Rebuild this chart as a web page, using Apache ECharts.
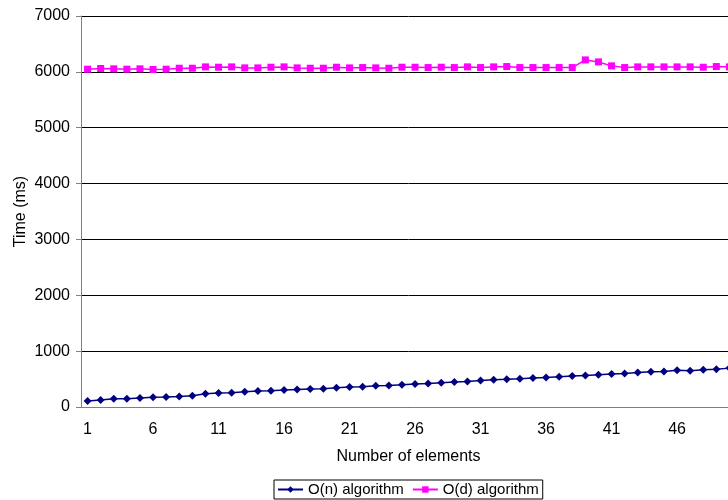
<!DOCTYPE html>
<html>
<head>
<meta charset="utf-8">
<script src="https://cdn.jsdelivr.net/npm/echarts@6/dist/echarts.min.js"></script>
<style>
  html, body { margin: 0; padding: 0; background: #fff; overflow: hidden; }
  /* the plot runs a few pixels past the right edge, as in the original */
  #main-chart { width: 736px; height: 500px; }
</style>
</head>
<body>
<div id="main-chart"></div>
<script>
// number of elements 1..50
const elements = [];
for (let i = 1; i <= 50; i++) elements.push(String(i));

// time in ms
const onValues = [
  107, 125, 149, 149, 161, 173, 179, 190, 202, 238,
  250, 256, 274, 286, 292, 303, 315, 321, 327, 345,
  357, 363, 381, 387, 399, 411, 422, 434, 446, 458,
  476, 488, 496, 506, 518, 530, 541, 553, 565, 577,
  589, 601, 619, 631, 637, 660, 649, 666, 678, 696
];
const odValues = [
  6048, 6060, 6054, 6048, 6054, 6042, 6048, 6065, 6065, 6089,
  6083, 6089, 6071, 6071, 6083, 6089, 6071, 6065, 6065, 6083,
  6071, 6077, 6071, 6065, 6083, 6083, 6077, 6083, 6077, 6089,
  6077, 6089, 6095, 6077, 6077, 6077, 6077, 6077, 6214, 6178,
  6107, 6077, 6089, 6089, 6089, 6089, 6089, 6083, 6095, 6089
];

const yTicks = [0, 1000, 2000, 3000, 4000, 5000, 6000, 7000];

const font = 'Liberation Sans, Arial, sans-serif';
const myChart = echarts.init(document.getElementById('main-chart'));

const option = {
  animation: false,
  backgroundColor: '#fff',
  grid: { left: 81, right: 0, top: 16, bottom: 93, containLabel: false },
  legend: {
    bottom: 1,
    left: 274,
    itemGap: 8,
    itemWidth: 25,
    itemHeight: 8,
    padding: [2, 4, 2, 3],
    borderColor: '#000',
    borderWidth: 1,
    borderRadius: 0,
    textStyle: { fontFamily: font, fontSize: 15, color: '#000' },
    data: ['O(n) algorithm', 'O(d) algorithm']
  },
  xAxis: {
    type: 'category',
    data: elements,
    boundaryGap: true,
    name: 'Number of elements',
    nameLocation: 'middle',
    nameGap: 42,
    nameTextStyle: { fontFamily: font, fontSize: 16, color: '#000' },
    axisLine: { lineStyle: { color: '#808080', width: 1 } },
    axisTick: { interval: 4, length: 5, lineStyle: { color: '#808080' } },
    axisLabel: { interval: 4, margin: 15, fontFamily: font, fontSize: 16, color: '#000' },
    splitLine: { show: false }
  },
  yAxis: {
    type: 'value',
    min: yTicks[0],
    max: yTicks[yTicks.length - 1],
    interval: 1000,
    name: 'Time (ms)',
    nameLocation: 'middle',
    nameGap: 52,
    nameRotate: 90,
    nameMoveOverlap: false,
    nameTextStyle: { fontFamily: font, fontSize: 16, color: '#000' },
    axisLine: { show: true, lineStyle: { color: '#808080', width: 1 } },
    axisTick: { show: true, length: 5, lineStyle: { color: '#808080' } },
    axisLabel: {
      margin: 11, fontFamily: font, fontSize: 16, color: '#000',
      formatter: v => String(v)
    },
    splitLine: { show: true, lineStyle: { color: '#000', width: 1 } }
  },
  series: [
    {
      name: 'O(n) algorithm',
      type: 'line',
      data: onValues,
      symbol: 'diamond',
      symbolSize: 8,
      color: '#000080',
      lineStyle: { width: 1.5, color: '#000080' },
      itemStyle: { color: '#000080' }
    },
    {
      name: 'O(d) algorithm',
      type: 'line',
      data: odValues,
      symbol: 'rect',
      symbolSize: 7,
      color: '#ff00ff',
      lineStyle: { width: 1.5, color: '#ff00ff' },
      itemStyle: { color: '#ff00ff' }
    }
  ]
};

myChart.setOption(option);
</script>
</body>
</html>
